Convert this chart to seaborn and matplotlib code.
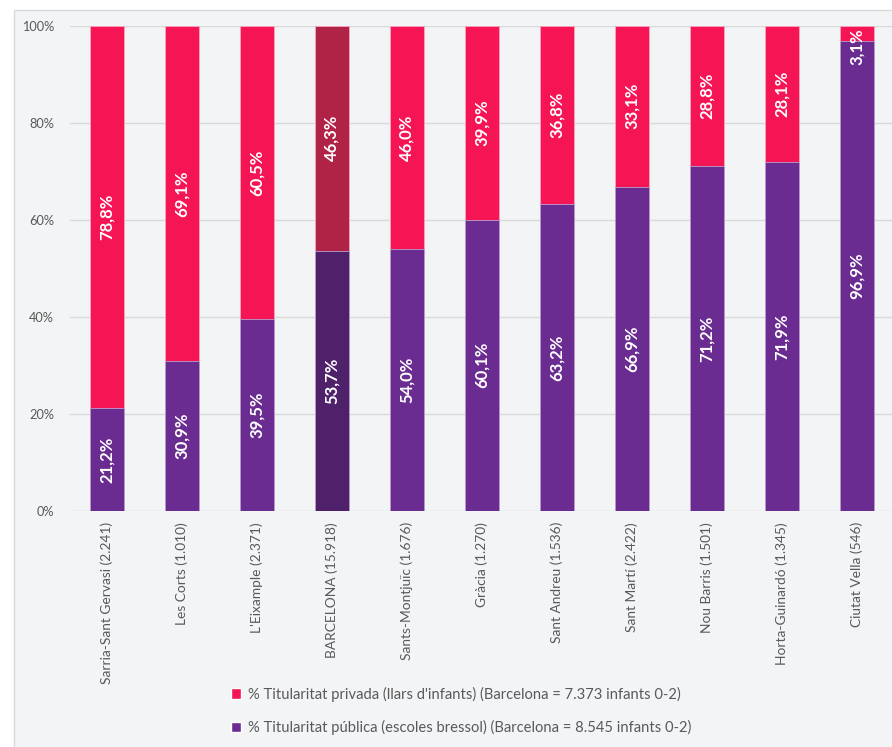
import matplotlib
matplotlib.use("Agg")
import matplotlib.pyplot as plt
import seaborn as sns
import pandas as pd
from matplotlib.patches import Rectangle, Patch
from matplotlib.ticker import FuncFormatter

categories = ["Sarria-Sant Gervasi (2.241)", "Les Corts (1.010)", "L'Eixample (2.371)",
              "BARCELONA (15.918)", "Sants-Montjuïc (1.676)", "Gràcia (1.270)",
              "Sant Andreu (1.536)", "Sant Martí (2.422)", "Nou Barris (1.501)",
              "Horta-Guinardó (1.345)", "Ciutat Vella (546)"]
privada = [78.8, 69.1, 60.5, 46.3, 46.0, 39.9, 36.8, 33.1, 28.8, 28.1, 3.1]
publica = [21.2, 30.9, 39.5, 53.7, 54.0, 60.1, 63.2, 66.9, 71.2, 71.9, 96.9]
legend_labels = ["% Titularitat privada (llars d'infants) (Barcelona = 7.373 infants 0-2)",
                 "% Titularitat pública (escoles bressol) (Barcelona = 8.545 infants 0-2)"]

sns.set_theme(style="white")
plt.rcParams['font.family'] = ['Lato', 'DejaVu Sans']

c_priv, c_pub = "#F51454", "#6A2C91"
c_priv_hl, c_pub_hl = "#B12346", "#4F216B"
pal_priv = [c_priv_hl if c.startswith("BARCELONA") else c_priv for c in categories]
pal_pub = [c_pub_hl if c.startswith("BARCELONA") else c_pub for c in categories]

df = pd.DataFrame({"cat": categories, "priv": privada, "pub": publica})
df["total"] = df["priv"] + df["pub"]

W, H = 892, 747
fig = plt.figure(figsize=(W / 100, H / 100), dpi=100)
fig.patch.set_facecolor("white")
bg = Rectangle((14 / W, -0.01), 1, 1.01 - 10 / H, transform=fig.transFigure,
               facecolor="#F3F4F6", edgecolor="#D9D9D9", linewidth=1, zorder=-10)
fig.add_artist(bg)

ax = fig.add_axes([69.5 / W, 1 - 511 / H, (892 - 69.5) / W, 485 / H])
ax.set_facecolor("none")
ax.set_zorder(1)

sns.barplot(data=df, x="cat", y="total", hue="cat", palette=pal_priv, legend=False,
            saturation=1, width=0.45, ax=ax, edgecolor="#F9A6BE", linewidth=0.6, zorder=3)
sns.barplot(data=df, x="cat", y="pub", hue="cat", palette=pal_pub, legend=False,
            saturation=1, width=0.45, ax=ax, edgecolor="#B9A0D0", linewidth=0.6, zorder=3)

def fmt(v):
    return f"{v:.1f}".replace(".", ",") + "%"

for i, (p, q) in enumerate(zip(publica, privada)):
    ax.text(i, p / 2, fmt(p), rotation=90, ha="center", va="center", color="white",
            fontsize=12, fontweight="bold", zorder=5)
    # keep label inside the plot area (as the original chart does)
    ax.text(i, min(p + q / 2, 95.7), fmt(q), rotation=90, ha="center", va="center",
            color="white", fontsize=12, fontweight="bold", zorder=5)

ax.set_ylim(0, 100)
ax.set_xlim(-0.5, 10.47)
ax.set_yticks(range(0, 101, 20))
ax.yaxis.set_major_formatter(FuncFormatter(lambda v, _: f"{int(v)}%"))
ax.grid(axis="y", color="#D9D9D9", linewidth=1, zorder=0)
ax.set_axisbelow(True)
for s in ax.spines.values():
    s.set_visible(False)
ax.set_xlabel("")
ax.set_ylabel("")
ax.tick_params(axis="y", length=0, pad=11, labelsize=9.2, labelcolor="#595959")
ax.tick_params(axis="x", length=0, pad=8, labelsize=9.9, labelcolor="#595959")
ax.set_xticks(range(len(categories)))
ax.set_xticklabels(categories, rotation=90, va="top", ha="center")

handles = [Patch(facecolor=c_priv, label=legend_labels[0]),
           Patch(facecolor=c_pub, label=legend_labels[1])]
leg = fig.legend(handles=handles, loc="center left", bbox_to_anchor=(225 / W, 1 - 711 / H),
                 ncol=1, frameon=False, fontsize=10.6, handlelength=0.7, handleheight=0.7,
                 handletextpad=0.45, labelspacing=1.25, borderaxespad=0)
for t in leg.get_texts():
    t.set_color("#595959")

fig.savefig("out.png", dpi=100, facecolor=fig.get_facecolor())
